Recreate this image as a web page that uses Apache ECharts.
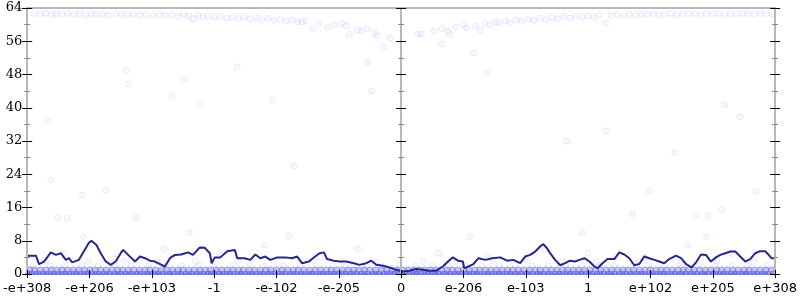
<!DOCTYPE html>
<html><head><meta charset="utf-8">
<script src="https://cdn.jsdelivr.net/npm/echarts@6/dist/echarts.min.js"></script>
<style>html,body{margin:0;padding:0;background:#fff}#c{width:800px;height:300px}</style>
</head><body><div id="c"></div>
<script>
// x tick labels at axis units -6..6
const xTickLabels = ['-e+308','-e+206','-e+103','-1','-e-102','-e-205','0','e-206','e-103','1','e+102','e+205','e+308'];
const yTicks = [0, 8, 16, 24, 32, 40, 48, 56, 64];

// scatter points on the floor (value 0, 1, 2, 3): x positions
const floor0X = [-5.98,-5.93,-5.86,-5.81,-5.74,-5.69,-5.62,-5.57,-5.51,-5.44,-5.39,-5.33,-5.26,-5.21,-5.15,-5.08,-5.03,-4.97,-4.90,-4.85,-4.78,-4.73,-4.67,-4.60,-4.55,-4.49,-4.42,-4.37,-4.31,-4.24,-4.19,-4.12,-4.07,-4.01,-3.94,-3.89,-3.83,-3.76,-3.71,-3.65,-3.58,-3.53,-3.46,-3.41,-3.35,-3.28,-3.23,-3.17,-3.10,-3.05,-2.99,-2.92,-2.87,-2.80,-2.75,-2.69,-2.62,-2.57,-2.51,-2.44,-2.39,-2.33,-2.26,-2.21,-2.14,-2.09,-2.03,-1.96,-1.91,-1.85,-1.78,-1.73,-1.67,-1.60,-1.55,-1.48,-1.43,-1.37,-1.30,-1.25,-1.19,-1.12,-1.07,-1.01,-0.94,-0.89,-0.82,-0.77,-0.71,-0.64,-0.59,-0.53,-0.46,-0.41,-0.35,-0.28,-0.23,-0.16,-0.11,-0.05,0.02,0.07,0.13,0.20,0.25,0.31,0.38,0.43,0.50,0.55,0.61,0.68,0.73,0.79,0.86,0.91,0.97,1.04,1.09,1.16,1.21,1.27,1.34,1.39,1.45,1.52,1.57,1.63,1.70,1.75,1.82,1.87,1.93,2.00,2.05,2.11,2.18,2.23,2.29,2.36,2.41,2.48,2.53,2.59,2.66,2.71,2.77,2.84,2.89,2.95,3.02,3.07,3.14,3.19,3.25,3.32,3.37,3.43,3.50,3.55,3.61,3.68,3.73,3.80,3.85,3.91,3.98,4.03,4.09,4.16,4.21,4.27,4.34,4.39,4.46,4.51,4.57,4.64,4.69,4.75,4.82,4.87,4.93,5.00,5.05,5.12,5.17,5.23,5.30,5.35,5.41,5.48,5.53,5.59,5.66,5.71,5.78,5.83,5.89,5.96];
const floor1X = [-5.96,-5.88,-5.79,-5.70,-5.61,-5.52,-5.44,-5.35,-5.26,-5.17,-5.08,-4.99,-4.91,-4.82,-4.73,-4.64,-4.55,-4.47,-4.38,-4.29,-4.20,-4.11,-4.03,-3.94,-3.85,-3.76,-3.67,-3.58,-3.50,-3.41,-3.32,-3.23,-3.14,-3.06,-2.97,-2.88,-2.79,-2.70,-2.61,-2.53,-2.44,-2.35,-2.26,-2.17,-2.09,-2.00,-1.91,-1.82,-1.73,-1.65,-1.56,-1.47,-1.38,-1.29,-1.20,-1.12,-1.03,-0.94,-0.85,-0.76,-0.68,-0.59,-0.50,-0.41,-0.32,-0.23,-0.15,-0.06,0.03,0.12,0.21,0.29,0.38,0.47,0.56,0.65,0.74,0.82,0.91,1.00,1.09,1.18,1.26,1.35,1.44,1.53,1.62,1.71,1.79,1.88,1.97,2.06,2.15,2.23,2.32,2.41,2.50,2.59,2.67,2.76,2.85,2.94,3.03,3.12,3.20,3.29,3.38,3.47,3.56,3.64,3.73,3.82,3.91,4.00,4.09,4.17,4.26,4.35,4.44,4.53,4.61,4.70,4.79,4.88,4.97,5.06,5.14,5.23,5.32,5.41,5.50,5.58,5.67,5.76,5.85,5.94];
const floor2X = [-5.90,-5.63,-5.41,-5.12,-4.86,-4.58,-4.33,-4.05,-3.77,-3.52,-3.24,-2.98,-2.71,-2.43,-2.18,-1.90,-1.63,-1.37,-1.10,-0.84,-0.57,-0.30,-0.04,0.23,0.50,0.76,1.03,1.29,1.57,1.83,2.10,2.36,2.64,2.90,3.17,3.43,3.71,3.97,4.24,4.50,4.78,5.04,5.31,5.57,5.86];
const floor3X = [-5.71,-5.02,-4.44,-3.91,-3.30,-2.62,-2.05,-1.49,-0.92,-0.40,0.36,0.88,1.47,2.02,2.58,3.13,3.82,4.41,5.07,5.66];

// scattered points in the middle of the chart: [x, value]
const sparsePoints = [[-5.4,5],[-4.6,4],[-3.8,6],[-2.9,5],[-2.2,7],[-1.3,4],[-0.7,6],[0.6,5],[1.4,4],[2.3,6],[3.0,5],[3.9,4],[4.6,7],[5.3,5],[-5.1,9],[-3.4,10],[-1.8,9],[1.1,9],[2.9,10],[4.9,9],
  [-5.67,36.8],[-5.62,22.6],[-5.12,19],[-4.74,20.2],[-3.23,40.9],[-4.41,49],[-4.38,45.7],[-3.49,46.9],[-3.68,42.8],[-0.29,54.6],[-0.54,51],[-0.48,44],[0.65,55.3],[1.16,53.2],[1.37,48.4],
  [3.29,34.4],[5.19,40.7],[5.44,37.8],[4.39,29.1],[5.70,20],[3.71,14.5],[4.73,14.2],[4.93,14],[5.14,15.4],[-2.63,49.8],[-2.07,41.9],[-1.72,26],[2.66,32],[3.98,20],[-4.25,13.5],[-5.36,13.5],[-5.51,13.5]];

// points along the top: x positions and values
const topX = [-5.89,-5.79,-5.70,-5.60,-5.54,-5.44,-5.35,-5.25,-5.16,-5.06,-4.97,-4.90,-4.79,-4.70,-4.58,-4.49,-4.39,-4.30,-4.19,-4.09,-3.98,-3.88,-3.79,-3.69,-3.58,-3.49,-3.41,-3.34,-3.26,-3.18,-3.09,-2.99,-2.90,-2.80,-2.71,-2.61,-2.51,-2.42,-2.32,-2.23,-2.13,-2.04,-1.94,-1.85,-1.75,-1.66,-1.59,-1.54,-1.42,-1.32,-1.18,-1.07,-0.95,-0.88,-0.83,-0.70,-0.64,-0.54,-0.43,-0.38,-0.18,
  0.27,0.32,0.53,0.65,0.75,0.78,0.88,1.00,1.05,1.19,1.27,1.34,1.43,1.51,1.56,1.67,1.75,1.85,1.94,2.04,2.13,2.23,2.32,2.42,2.51,2.61,2.71,2.80,2.90,2.99,3.09,3.18,3.28,3.37,3.47,3.57,3.66,3.76,3.85,3.95,4.04,4.14,4.23,4.33,4.42,4.52,4.62,4.71,4.81,4.90,5.00,5.09,5.19,5.28,5.38,5.48,5.57,5.67,5.76,5.86,5.95];
const topY = [62.6,62.5,62.7,62.4,62.6,62.5,62.7,62.4,62.6,62.3,62.6,62.4,62.5,62.3,62.6,62.4,62.2,62.5,62.3,62.4,62.2,62.5,62.2,62.3,62.0,62.4,62.1,61.4,62.2,61.9,62.1,61.8,62.0,61.6,61.9,61.5,61.8,61.3,61.6,61.2,61.5,61.0,61.3,60.8,61.1,60.7,60.6,60.9,59.0,60.4,59.4,59.9,60.2,59.7,57.7,58.7,58.5,59.0,58.0,57.3,56.8,
  57.7,57.7,58.5,59.0,58.5,57.7,59.4,59.9,59.2,59.7,58.7,60.2,59.9,60.6,60.6,60.9,60.5,61.1,60.8,61.3,61.0,61.5,61.2,61.7,61.4,61.9,61.6,62.0,61.8,62.1,61.9,62.3,60.4,62.2,62.4,62.1,62.5,62.3,62.6,62.4,62.6,62.3,62.5,62.7,62.4,62.6,62.5,62.7,62.4,62.6,62.5,62.7,62.4,62.6,62.5,62.7,62.6,62.5,62.7,62.6,62.5];

// dark line (running average)
const lineX = [-6.00,-5.86,-5.81,-5.73,-5.62,-5.54,-5.46,-5.38,-5.33,-5.28,-5.17,-5.09,-5.01,-4.97,-4.89,-4.82,-4.74,-4.66,-4.58,-4.50,-4.46,-4.38,-4.27,-4.19,-4.11,-4.03,-3.95,-3.87,-3.79,-3.71,-3.63,-3.53,-3.42,-3.34,-3.23,-3.15,-3.07,-3.04,-2.99,-2.90,-2.79,-2.67,-2.63,-2.51,-2.42,-2.34,-2.26,-2.18,-2.10,-1.99,-1.86,-1.75,-1.67,-1.59,-1.48,-1.38,-1.31,-1.24,-1.19,-1.08,-0.99,-0.88,-0.76,-0.67,-0.56,-0.48,-0.40,-0.29,-0.19,-0.08,0.03,0.13,0.24,0.35,0.45,0.56,0.67,0.75,0.83,0.91,0.99,1.01,1.08,1.16,1.24,1.35,1.46,1.59,1.70,1.80,1.91,1.99,2.07,2.15,2.23,2.28,2.34,2.39,2.47,2.55,2.63,2.71,2.79,2.86,2.94,3.02,3.10,3.15,3.23,3.31,3.42,3.50,3.58,3.66,3.74,3.82,3.90,3.98,4.06,4.14,4.22,4.30,4.41,4.49,4.57,4.66,4.74,4.81,4.89,4.97,5.05,5.12,5.20,5.28,5.36,5.44,5.52,5.60,5.68,5.76,5.84,5.89,5.94,6.00];
const lineY = [4.4,4.4,2.4,3.0,5.2,4.6,5.0,3.4,3.8,2.8,3.4,5.5,7.5,8.0,7.0,5.0,3.0,2.2,3.0,5.0,5.8,4.6,3.0,4.2,3.8,3.2,3.0,2.4,1.8,3.8,4.6,4.7,5.2,4.6,6.4,6.3,5.0,2.6,4.0,4.0,5.5,5.8,3.8,3.8,3.4,4.7,3.8,4.2,3.4,4.0,4.0,3.8,4.2,2.6,3.0,4.2,5.0,5.2,3.6,3.2,3.0,3.0,2.6,2.2,2.6,3.2,2.2,2.0,1.6,1.0,0.6,0.8,1.2,1.0,0.8,0.8,1.8,3.0,4.0,3.2,3.0,1.4,1.8,2.4,3.8,3.4,3.8,4.0,3.2,3.4,2.6,4.2,4.6,5.4,6.6,7.2,6.2,5.0,3.4,2.1,2.6,3.2,3.0,3.4,3.8,3.0,1.8,1.4,2.6,3.6,3.6,5.2,4.7,3.8,2.1,2.4,4.2,3.8,3.4,3.0,2.6,3.6,4.4,3.8,2.4,1.6,3.0,4.7,4.6,3.0,4.0,4.6,5.0,5.4,5.4,4.2,3.0,3.6,5.0,5.5,5.5,4.7,3.8,3.8];

// dense floor points (heavily overplotted in the original)
const floorData = []
  .concat(floor0X.map(x => [x, 0]))
  .concat(floor1X.map(x => [x, 1]));
// faint individual points
const faintData = []
  .concat(floor2X.map(x => [x, 2]))
  .concat(floor3X.map(x => [x, 3]))
  .concat(sparsePoints)
  .concat(topX.map((x, i) => [x, topY[i]]));
const lineData = lineX.map((x, i) => [x, lineY[i]]);

const AXIS_GRAY = '#b8b8b8';
const yMin = yTicks[0], yMax = yTicks[yTicks.length - 1], yStep = yTicks[1] - yTicks[0];
const xMin = -6, xMax = 6;

function yAx(position, inside, onZero, showLabel) {
  return {
    type: 'value', min: yMin, max: yMax, interval: yStep, position: position, z: 4,
    axisLine: { show: true, onZero: onZero, onZeroAxisIndex: onZero ? 0 : undefined, lineStyle: { color: AXIS_GRAY, width: 2 } },
    axisTick: { show: true, inside: inside, length: 5, lineStyle: { color: '#000', width: 1 } },
    minorTick: { show: true, splitNumber: 2, length: 3, lineStyle: { color: '#888', width: 1 } },
    axisLabel: { show: showLabel, margin: 5, fontFamily: 'DejaVu Serif', fontSize: 13, color: '#000' },
    splitLine: { show: false }
  };
}

const chart = echarts.init(document.getElementById('c'), null, { renderer: 'canvas' });
chart.setOption({
  animation: false,
  backgroundColor: '#fff',
  grid: { left: 24, right: 22, top: 8, bottom: 26, containLabel: false },
  xAxis: [
    { type: 'value', min: xMin, max: xMax, interval: 1, position: 'bottom', z: 4,
      axisLine: { show: false, onZero: false },
      axisTick: { show: true, inside: false, length: 4, lineStyle: { color: '#000' } },
      axisLabel: { margin: 8, fontFamily: 'DejaVu Sans', fontSize: 13, color: '#000',
        formatter: v => xTickLabels[Math.round(v) - xMin] },
      splitLine: { show: false } },
    { type: 'value', min: xMin, max: xMax, interval: 1, position: 'top',
      axisLine: { show: true, onZero: false, lineStyle: { color: AXIS_GRAY, width: 2 } },
      axisTick: { show: false }, axisLabel: { show: false }, splitLine: { show: false } },
    { type: 'value', min: xMin, max: xMax, interval: 1, position: 'bottom', z: 4,
      axisLine: { show: false, onZero: false },
      axisTick: { show: true, inside: true, length: 4, lineStyle: { color: '#000' } },
      axisLabel: { show: false }, splitLine: { show: false } },
    { type: 'value', min: xMin, max: xMax, interval: 1, position: 'bottom', z: 0,
      axisLine: { show: true, onZero: false, lineStyle: { color: AXIS_GRAY, width: 2 } },
      axisTick: { show: false }, axisLabel: { show: false }, splitLine: { show: false } }
  ],
  yAxis: [
    yAx('left', false, false, true),
    yAx('left', true, false, false),
    yAx('left', false, true, false),
    yAx('left', true, true, false),
    yAx('right', false, false, false),
    yAx('right', true, false, false)
  ],
  graphic: { elements: [
    { type: 'rect', z: 3, silent: true, shape: { x: 0, y: 275, width: 800, height: 25 }, style: { fill: '#fff' } }
  ] },
  series: [
    { type: 'scatter', xAxisIndex: 0, yAxisIndex: 0, data: faintData, symbol: 'circle', symbolSize: 6, z: 2,
      itemStyle: { color: 'rgba(80,80,240,0.05)', borderColor: 'rgba(80,80,240,0.12)', borderWidth: 1 } },
    { type: 'scatter', xAxisIndex: 0, yAxisIndex: 0, data: floorData, symbol: 'circle', symbolSize: 6, z: 2,
      itemStyle: { color: 'rgba(70,70,235,0.38)', borderColor: 'rgba(70,70,235,0.45)', borderWidth: 1 } },
    { type: 'line', xAxisIndex: 0, yAxisIndex: 0, data: lineData, showSymbol: false, symbol: 'none', z: 3,
      lineStyle: { color: '#26268f', width: 2 } }
  ]
});
</script></body></html>
